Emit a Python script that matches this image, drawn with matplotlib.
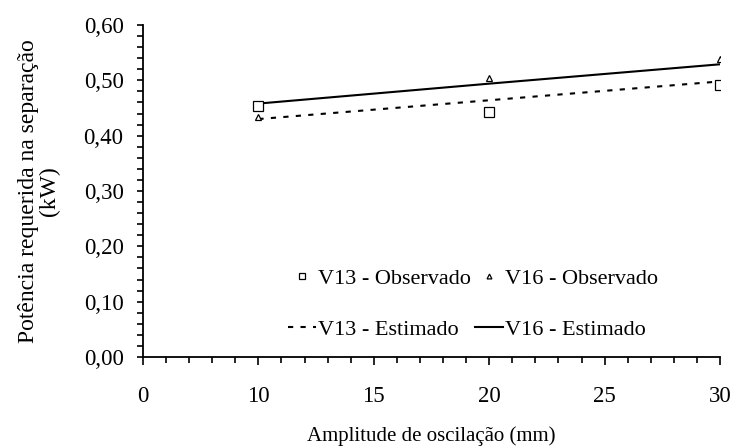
import matplotlib
matplotlib.use('Agg')
import matplotlib.pyplot as plt
from matplotlib.ticker import MultipleLocator, FixedLocator, FixedFormatter

# Dados
amplitude = [10, 20, 30]
v13_obs = [0.454, 0.443, 0.492]
v16_obs = [0.433, 0.505, 0.538]
v13_est = [0.430, 0.464, 0.498]
v16_est = [0.458, 0.494, 0.529]

x_ticks = [5, 10, 15, 20, 25, 30]
x_tick_labels = ['0', '10', '15', '20', '25', '30']

plt.rcParams['font.family'] = ['Liberation Serif', 'DejaVu Serif']
plt.rcParams['font.size'] = 16

fig = plt.figure(figsize=(7.33, 4.48), dpi=100)
ax = fig.add_axes([143 / 733, 1 - 357 / 448, (720 - 143) / 733, (357 - 25) / 448])

ax.plot(amplitude, v13_obs, linestyle='none', marker='s', markersize=7,
        markerfacecolor='white', markeredgecolor='black', markeredgewidth=0.9,
        label='V13 - Observado', zorder=3)
ax.plot(amplitude, v13_est, color='black', linestyle=(0, (2.5, 3.5)), linewidth=1.5,
        label='V13 - Estimado')
ax.plot(amplitude, v16_obs, linestyle='none', marker='^', markersize=5,
        markerfacecolor='white', markeredgecolor='black', markeredgewidth=0.9,
        label='V16 - Observado', zorder=3)
ax.plot(amplitude, v16_est, color='black', linestyle='-', linewidth=1.5,
        label='V16 - Estimado')

ax.set_xlim(5, 30)
ax.set_ylim(0, 0.60)
ax.xaxis.set_major_locator(FixedLocator(x_ticks))
ax.xaxis.set_major_formatter(FixedFormatter(x_tick_labels))
ax.xaxis.set_minor_locator(MultipleLocator(1))
ax.yaxis.set_major_locator(MultipleLocator(0.1))
ax.yaxis.set_minor_locator(MultipleLocator(0.02))
ax.yaxis.set_major_formatter(plt.FuncFormatter(lambda v, p: f'{v:.2f}'.replace('.', ',')))

for s in ['top', 'right']:
    ax.spines[s].set_visible(False)
for s in ['left', 'bottom']:
    ax.spines[s].set_linewidth(1.3)
ax.tick_params(which='both', direction='out', width=1.2)
ax.tick_params(axis='x', which='major', length=6, labelsize=16.5, pad=15)
ax.tick_params(axis='x', which='minor', length=4)
ax.tick_params(axis='y', which='both', length=4, labelsize=16.5, pad=10)

ax.set_xlabel('Amplitude de oscilação (mm)', fontsize=15)
ax.xaxis.set_label_coords(0.5, -0.21)
ax.set_ylabel('Potência requerida na separação\n(kW)', fontsize=17, linespacing=1.0)
ax.yaxis.set_label_coords(-0.143, 0.5)

leg = ax.legend(ncol=2, frameon=False, loc='upper left', bbox_to_anchor=(0.236, 0.295),
                labelspacing=1.4, columnspacing=0.2, handlelength=1.25, handletextpad=0.1,
                markerscale=0.7, borderaxespad=0)

fig.savefig('out.png', dpi=100)
